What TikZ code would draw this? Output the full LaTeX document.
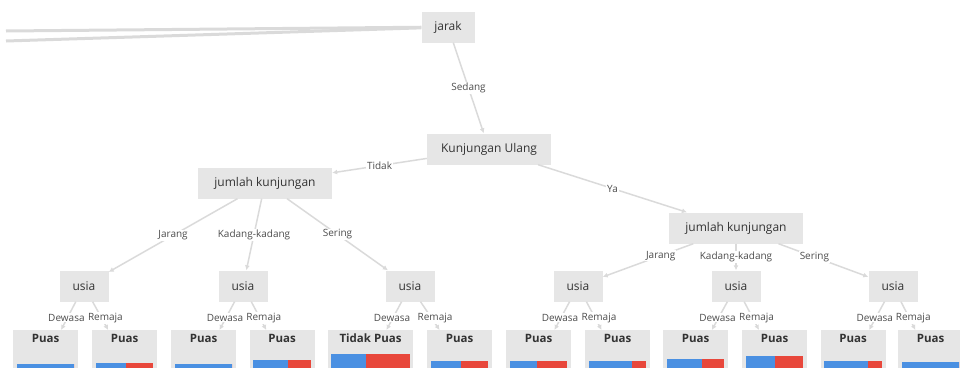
\documentclass[tikz,border=0pt]{standalone}
\usepackage{fontspec}
\setmainfont{Open Sans}
\usetikzlibrary{arrows.meta,calc}
\definecolor{boxgray}{HTML}{E6E6E6}
\definecolor{edgegray}{HTML}{DADADA}
\definecolor{txtgray}{HTML}{333333}
\definecolor{lblgray}{HTML}{4D4D4D}
\definecolor{barblue}{HTML}{4A90E2}
\definecolor{barred}{HTML}{E8473B}

\begin{document}
\begin{tikzpicture}[x=1pt,y=-1pt,
  split/.style={fill=boxgray, text=txtgray, minimum height=31pt, inner sep=0pt, font=\fontsize{12}{14}\selectfont},
  leaf/.style={fill=boxgray, text=txtgray, minimum width=65pt, inner xsep=12pt, inner ysep=2pt, text height=10pt, text depth=45pt, font=\bfseries\fontsize{11.5}{14}\selectfont},
  edge/.style={draw=edgegray, line width=1.5pt, -{Latex[length=5pt,width=5pt]}},
  lbl/.style={fill=white, text=lblgray, inner sep=1pt, font=\fontsize{10}{12}\selectfont}]
  \useasboundingbox (0,0) rectangle (960,367);
  \clip (0,0) rectangle (960,367);

  \node[split, minimum width=53pt] (jarak) at (448,27) {jarak};
  \node[split, minimum width=124pt] (ulang) at (489,149) {Kunjungan Ulang};
  \node[split, minimum width=134pt] (jmlA) at (265,183) {jumlah kunjungan};
  \node[split, minimum width=134pt] (jmlB) at (736,228) {jumlah kunjungan};
  \foreach \j/\x in {1/84, 2/243, 3/410, 4/578, 5/736, 6/893}
    \node[split, minimum width=49pt] (usia\j) at (\x,286) {usia};
  \foreach \i/\x/\txt in {1/45.5/Puas, 2/124.5/Puas, 3/203.5/Puas, 4/282/Puas, 5/370.5/Tidak Puas, 6/459.5/Puas,
      7/538.5/Puas, 8/617.5/Puas, 9/695.5/Puas, 10/774.5/Puas, 11/853/Puas, 12/930.5/Puas}
    \node[leaf, anchor=north] (leaf\i) at (\x,330) {\txt};

  % class bars
  \foreach \i/\f/\t in {1/1/34, 2/0.52/33, 3/1/34, 4/0.6/30, 5/0.44/24, 6/0.52/31,
      7/0.48/31, 8/0.75/31, 9/0.61/29, 10/0.5/26, 11/0.76/31, 12/1/32} {
    \coordinate (a) at ($(leaf\i.north west)+(4,\t)$);
    \coordinate (b) at ($(leaf\i.north east)+(-4,\t)$);
    \fill[barblue] (a) rectangle ($(a)!\f!(b)+(0,40)$);
    \fill[barred] ($(a)!\f!(b)$) rectangle ($(b)+(0,40)$);
  }

  \coordinate (offA) at (6,31);
  \coordinate (offB) at (6,41);
  \draw[edgegray, line width=3pt] (jarak) -- (offA);
  \draw[edgegray, line width=3pt] (jarak) -- (offB);

  \draw[edge] (jarak) -- node[lbl] {Sedang} (ulang);
  \draw[edge] (ulang) -- node[lbl] {Tidak} (jmlA);
  \draw[edge] (ulang) -- node[lbl] {Ya} (jmlB);
  \draw[edge] (jmlA) -- node[lbl] {Jarang} (usia1);
  \draw[edge] (jmlA) -- node[lbl] {Kadang-kadang} (usia2);
  \draw[edge] (jmlA) -- node[lbl] {Sering} (usia3);
  \draw[edge] (jmlB) -- node[lbl, pos=0.36] {Jarang} (usia4);
  \draw[edge] (jmlB) -- node[lbl] {Kadang-kadang} (usia5);
  \draw[edge] (jmlB) -- node[lbl, pos=0.4] {Sering} (usia6);
  \foreach \j/\a/\b in {1/1/2, 2/3/4, 3/5/6, 4/7/8, 5/9/10, 6/11/12} {
    \draw[edge] (usia\j) -- node[lbl, xshift=-2pt, yshift=-2pt] {Dewasa} (leaf\a);
    \draw[edge] (usia\j) -- node[lbl, xshift=5pt, yshift=-2pt] {Remaja} (leaf\b);
  }
\end{tikzpicture}
\end{document}
